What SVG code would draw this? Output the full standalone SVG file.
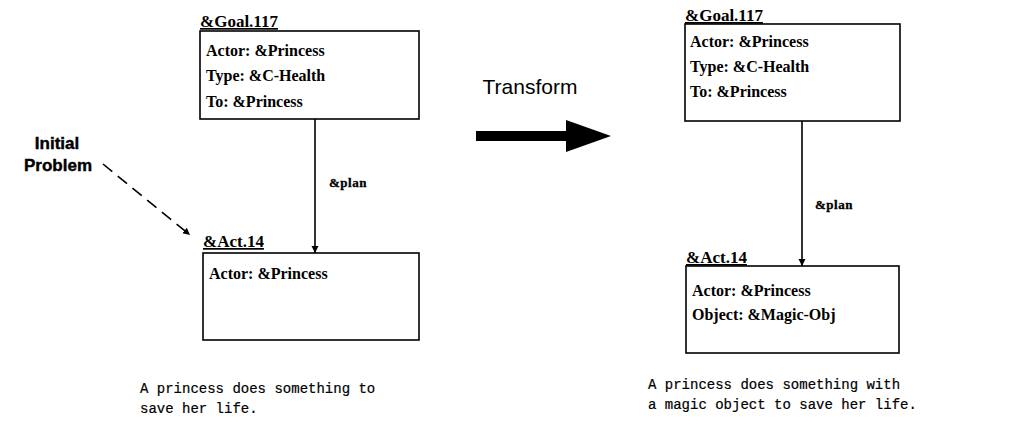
<svg xmlns="http://www.w3.org/2000/svg" width="1029" height="427" viewBox="0 0 1029 427">
  <style>
    .box { fill: #fff; stroke: #000; stroke-width: 1.6; }
    .slot { font-family: "Liberation Serif", "Times New Roman", serif; font-weight: bold; font-size: 16px; fill: #000; }
    .title { font-family: "Liberation Serif", "Times New Roman", serif; font-weight: bold; font-size: 17px; fill: #000; text-decoration: underline; }
    .rel { font-family: "Liberation Serif", "Times New Roman", serif; font-weight: bold; font-size: 13px; letter-spacing: 0.5px; fill: #000; stroke: #000; stroke-width: 0.3; }
    .note { font-family: "Liberation Sans", Arial, sans-serif; font-weight: bold; font-size: 17px; fill: #000; stroke: #000; stroke-width: 0.4; }
    .big { font-family: "Liberation Sans", Arial, sans-serif; font-size: 21px; fill: #000; }
    .caption { font-family: "Liberation Mono", "Courier New", monospace; font-size: 14px; fill: #000; stroke: #000; stroke-width: 0.2; }
    .link { fill: none; stroke: #000; stroke-width: 1.6; }
  </style>
  <defs>
    <marker id="head" viewBox="0 0 10 10" refX="10" refY="5" markerWidth="7" markerHeight="10" markerUnits="userSpaceOnUse" orient="auto">
      <path d="M0,0 L10,5 L0,10 Z" fill="#000"/>
    </marker>
  </defs>

  <!-- left frame: initial problem -->
  <g id="goal-left">
    <text class="title" x="200" y="27">&amp;Goal.117</text>
    <rect class="box" x="200" y="31" width="219" height="88"/>
    <text class="slot" x="206" y="56">Actor: &amp;Princess</text>
    <text class="slot" x="206" y="81">Type: &amp;C-Health</text>
    <text class="slot" x="206" y="107">To: &amp;Princess</text>
  </g>
  <g id="act-left">
    <text class="title" x="203" y="247">&amp;Act.14</text>
    <rect class="box" x="203" y="253" width="216" height="87"/>
    <text class="slot" x="209" y="279">Actor: &amp;Princess</text>
  </g>
  <g id="label-initial">
    <text class="note" x="57" y="149" text-anchor="middle">Initial</text>
    <text class="note" x="58" y="171" text-anchor="middle">Problem</text>
  </g>

  <!-- transform step -->
  <g id="transform">
    <text class="big" x="530" y="94" text-anchor="middle">Transform</text>
    <polygon points="476,131 566,131 566,120 611,136 566,152 566,141 476,141" fill="#000"/>
  </g>

  <!-- right frame: transformed problem -->
  <g id="goal-right">
    <text class="title" x="685" y="21">&amp;Goal.117</text>
    <rect class="box" x="685" y="24" width="215" height="97"/>
    <text class="slot" x="690" y="47">Actor: &amp;Princess</text>
    <text class="slot" x="690" y="72">Type: &amp;C-Health</text>
    <text class="slot" x="690" y="97">To: &amp;Princess</text>
  </g>
  <g id="act-right">
    <text class="title" x="686" y="263">&amp;Act.14</text>
    <rect class="box" x="686" y="266" width="213" height="87"/>
    <text class="slot" x="692" y="296">Actor: &amp;Princess</text>
    <text class="slot" x="692" y="320">Object: &amp;Magic-Obj</text>
  </g>

  <!-- connectors -->
  <g id="connectors">
    <line class="link" x1="315" y1="119" x2="315" y2="253" marker-end="url(#head)"/>
    <text class="rel" x="329" y="187">&amp;plan</text>
    <line class="link" x1="802" y1="121" x2="802" y2="266" marker-end="url(#head)"/>
    <text class="rel" x="815" y="209">&amp;plan</text>
    <line class="link" x1="103" y1="164" x2="190" y2="235" stroke-dasharray="12,7" marker-end="url(#head)"/>
  </g>

  <!-- captions -->
  <g id="captions">
    <text class="caption" x="140" y="393">A princess does something to</text>
    <text class="caption" x="140" y="413">save her life.</text>
    <text class="caption" x="648" y="389">A princess does something with</text>
    <text class="caption" x="648" y="409">a magic object to save her life.</text>
  </g>
</svg>
